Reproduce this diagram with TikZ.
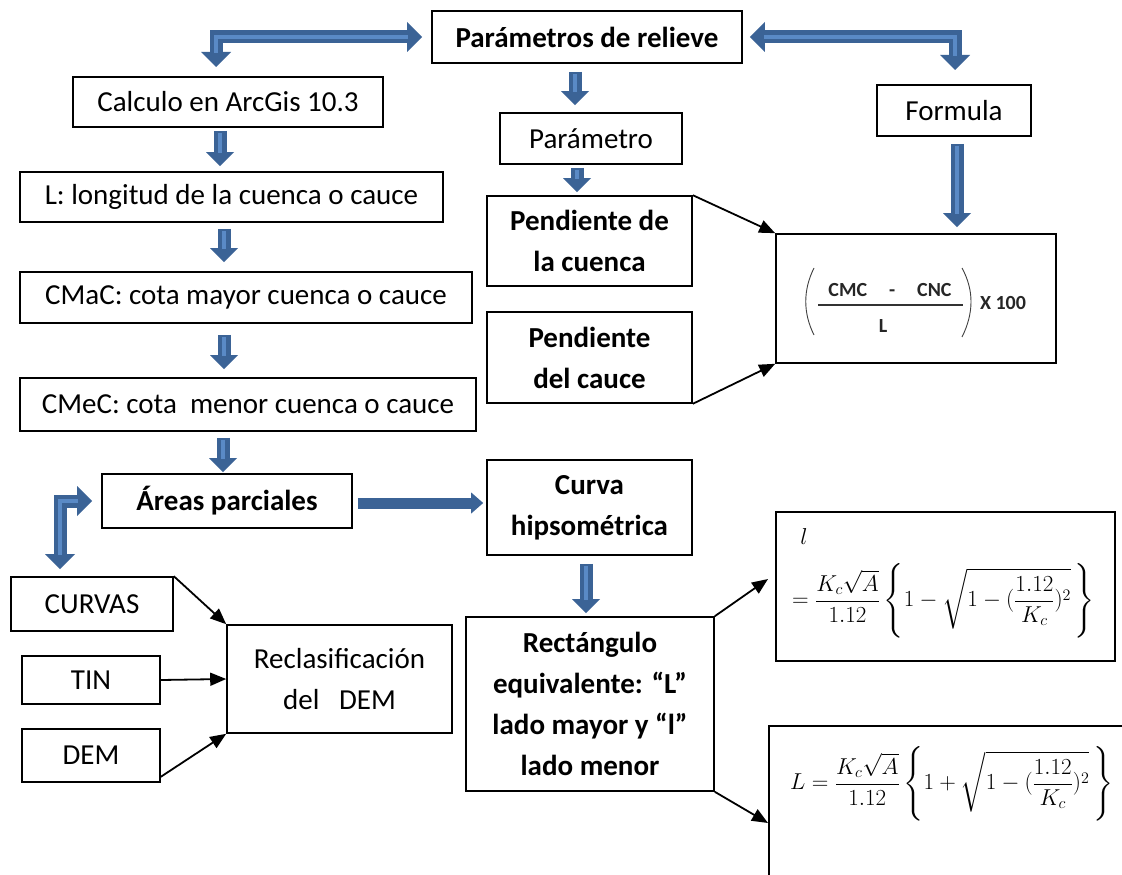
\RequirePackage{fix-cm}
\documentclass[tikz,border=0pt]{standalone}
\usepackage[no-math]{fontspec}
\setmainfont{Carlito}
\usepackage{amsmath}
\usepackage{exscale}
\usetikzlibrary{arrows.meta,calc}
\definecolor{bdark}{HTML}{3B6396}
\definecolor{blight}{HTML}{5A8AC6}
\tikzset{
  bt/.tip={Triangle[length=15pt,width=30pt,line width=0pt]},
  bs/.tip={Triangle[length=14pt,width=28pt,line width=0pt]},
  bh/.tip={Triangle[length=12pt,width=21pt,line width=0pt]},
}
\newcommand\blockarr[3]{%
  \draw[bshaft,#1] #3;
  \draw[bstripe,#2] #3;}
\begin{document}
\begin{tikzpicture}[x=1pt,y=-1pt,
  box/.style={draw=black, line width=1.6pt, rectangle, inner sep=0pt, align=center,
    font=\fontsize{29}{41}\selectfont},
  bbox/.style={box, font=\fontsize{29}{41}\selectfont\bfseries},
  thinarr/.style={line width=1.8pt, -{Triangle[length=16pt,width=13pt]}},
  bshaft/.style={draw=bdark, line width=13pt, line join=miter},
  bstripe/.style={draw=blight, line width=4pt, line join=miter},
  fbold/.style={inner sep=0pt, font=\fontsize{20}{24}\selectfont\bfseries, text=black!85},
  mth/.style={inner sep=0pt, font=\fontsize{23}{28}\selectfont},
]
\useasboundingbox (0,0) rectangle (1122,875);
\fill[white] (0,0) rectangle (1122,875);
\clip (0,0) rectangle (1122,875);

% boxes
\node[bbox, minimum width=310pt, minimum height=52pt] (param) at (587,37) {Parámetros de relieve};
\node[box, minimum width=310pt, minimum height=50pt] (arcgis) at (228,102) {Calculo en ArcGis 10.3};
\node[box, minimum width=182pt, minimum height=51pt] (parametro) at (591,138.5) {Parámetro};
\node[box, minimum width=154pt, minimum height=51pt] (formula) at (954,110.5) {Formula};
\node[box, minimum width=423pt, minimum height=50pt] (lbox) at (231.5,197) {L: longitud de la cuenca o cauce};
\node[bbox, minimum width=205pt, minimum height=90pt] (pcuenca) at (589.5,241) {Pendiente de\\la cuenca};
\node[box, minimum width=280pt, minimum height=129pt] (fbox) at (916,298.5) {};
\node[box, minimum width=452pt, minimum height=51pt] (cmac) at (246,297.5) {CMaC: cota mayor cuenca o cauce};
\node[bbox, minimum width=205pt, minimum height=91pt] (pcauce) at (589.5,357.5) {Pendiente\\del cauce};
\node[box, minimum width=456pt, minimum height=53pt] (cmec) at (248,404.5) {CMeC: cota\ \ menor cuenca o cauce};
\node[bbox, minimum width=250pt, minimum height=54pt] (areas) at (227,501) {Áreas parciales};
\node[bbox, minimum width=205pt, minimum height=95pt] (curva) at (589.5,507.5) {Curva\\hipsométrica};
\node[box, minimum width=339pt, minimum height=149pt] (lmin) at (945.5,586.5) {};
\node[box, minimum width=162pt, minimum height=54pt] (curvas) at (92,604) {CURVAS};
\node[box, minimum width=225pt, minimum height=108pt] (reclas) at (339.5,679) {Reclasificación\\del\ \ \ DEM};
\node[box, minimum width=138pt, minimum height=48pt] (tin) at (91,680) {TIN};
\node[bbox, minimum width=248pt, minimum height=174pt] (rect) at (590,704) {Rectángulo\\equivalente: “L”\\lado mayor y “l”\\lado menor};
\node[box, minimum width=138pt, minimum height=53pt] (dem) at (91,755.5) {DEM};
\node[box, minimum width=380pt, minimum height=180pt] (Lmay) at (959,816) {};

% formula box content
\node[fbold] (num) at (890,290) {CMC\hspace{22pt}-\hspace{22pt}CNC};
\node[fbold] (den) at (883,326) {L};
\node[fbold] (x100) at (1003,303) {X 100};
\draw[line width=1.3pt, black!80] (818,305) -- (963,305);
\draw[line width=0.9pt, black!75] (814,268) .. controls (803,290) and (803,313) .. (814,335);
\draw[line width=0.9pt, black!75] (962,268) .. controls (974,290) and (974,313) .. (962,337);

% l formula
\node[mth] (lsym) at (804,537) {$l$};
\node[mth, anchor=west] (lform) at (792,601) {$\displaystyle =\dfrac{K_c\sqrt{A}}{1.12}\left\{1-\sqrt{1-(\dfrac{1.12}{K_c})^2}\,\right\}$};
% L formula
\node[mth, anchor=west] (Lform) at (790,784) {$\displaystyle L=\dfrac{K_c\sqrt{A}}{1.12}\left\{1+\sqrt{1-(\dfrac{1.12}{K_c})^2}\,\right\}$};

% block arrows
\coordinate (tlTip) at (216,67);
\coordinate (trTip) at (955,70);
\coordinate (alTip) at (60,569);
\blockarr{bt-bt}{shorten <=14pt, shorten >=14pt}{([xshift=-9pt]param.west) -| (tlTip)}
\blockarr{bt-bt}{shorten <=14pt, shorten >=14pt}{([xshift=7pt]param.east) -| (trTip)}
\blockarr{bt-bt}{shorten <=14pt, shorten >=14pt}{([xshift=-9pt]areas.west) -| (alTip)}

\blockarr{-bs}{shorten <=2pt, shorten >=13pt}{($(param.south)+(-12,8)$) -- ($(parametro.north)+(-16,-7)$)}
\blockarr{-bs}{shorten <=2pt, shorten >=13pt}{($(arcgis.south)+(-8,3)$) -- ($(lbox.north)+(-11.5,-5)$)}
\blockarr{-bs}{shorten <=2pt, shorten >=13pt}{($(parametro.south)+(-14,3)$) -- ($(pcuenca.north)+(-12.5,-3)$)}
\blockarr{-bs}{shorten <=2pt, shorten >=13pt}{($(formula.south)+(3,7)$) -- ($(fbox.north)+(41,-6)$)}
\blockarr{-bs}{shorten <=2pt, shorten >=13pt}{($(lbox.south)+(-7.5,6)$) -- ($(cmac.north)+(-22,-9)$)}
\blockarr{-bs}{shorten <=2pt, shorten >=13pt}{($(cmac.south)+(-22,11)$) -- ($(cmec.north)+(-24,-8)$)}
\blockarr{-bs}{shorten <=2pt, shorten >=13pt}{($(cmec.south)+(-25,6)$) -- ($(areas.north)+(-4,-1)$)}
\blockarr{-bs}{shorten <=2pt, shorten >=13pt}{($(curva.south)+(-3.5,8)$) -- ($(rect.north)+(-4,-3)$)}
\draw[bdark, line width=11pt, -bh] ($(areas.east)+(5,2)$) -- ($(curva.west)+(-3,-4.5)$);

% thin arrows
\coordinate (rTip) at (768,579);
\coordinate (rTip2) at (768,823);
\draw[thinarr] (pcuenca.north east) -- (fbox.north west);
\draw[thinarr] (pcauce.south east) -- (fbox.south west);
\draw[thinarr] (curvas.north east) -- (reclas.north west);
\draw[thinarr] (tin.east) -- (reclas.west);
\draw[thinarr] ($(dem.south east)+(0,-6)$) -- (reclas.south west);
\draw[thinarr] (rect.north east) -- (rTip);
\draw[thinarr] (rect.south east) -- (rTip2);
\end{tikzpicture}
\end{document}
